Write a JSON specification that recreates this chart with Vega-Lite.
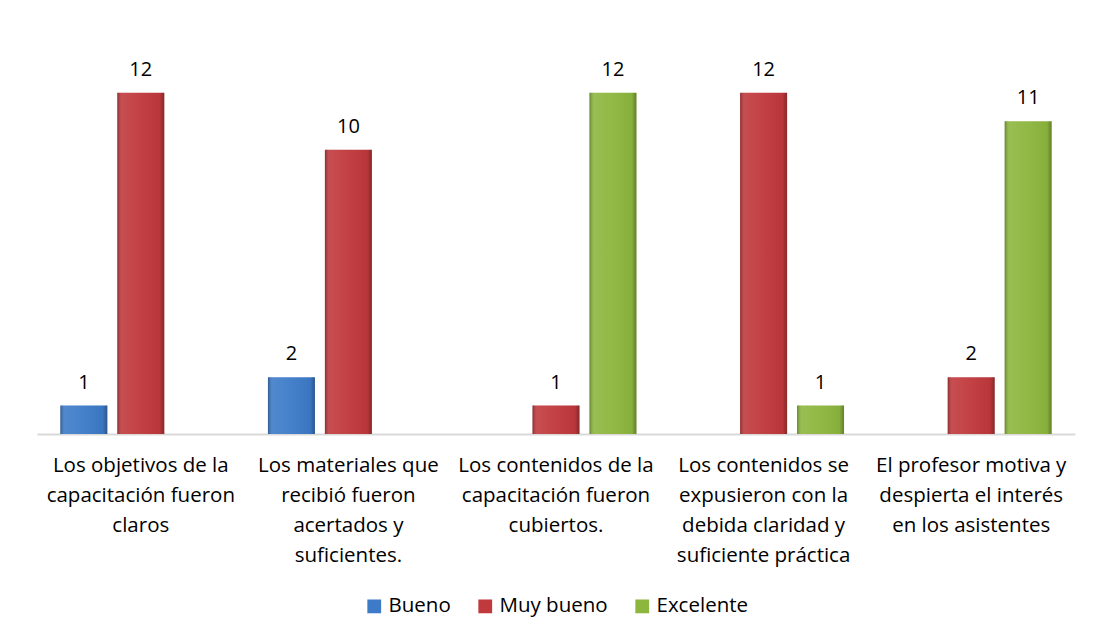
{
  "$schema": "https://vega.github.io/schema/vega-lite/v6.json",
  "width": 1038,
  "height": 398,
  "autosize": {"type": "pad"},
  "padding": {"left": 37, "top": 36, "right": 26, "bottom": 10},
  "background": "white",
  "config": {
    "view": {"stroke": null},
    "font": "Open Sans",
    "legend": {"layout": {"bottom": {"anchor": "middle"}}}
  },
  "data": {
    "values": [
      {"pregunta": "Los objetivos de la\ncapacitación fueron\nclaros", "calificacion": "Bueno", "valor": 1},
      {"pregunta": "Los objetivos de la\ncapacitación fueron\nclaros", "calificacion": "Muy bueno", "valor": 12},
      {"pregunta": "Los materiales que\nrecibió fueron\nacertados y\nsuficientes.", "calificacion": "Bueno", "valor": 2},
      {"pregunta": "Los materiales que\nrecibió fueron\nacertados y\nsuficientes.", "calificacion": "Muy bueno", "valor": 10},
      {"pregunta": "Los contenidos de la\ncapacitación fueron\ncubiertos.", "calificacion": "Muy bueno", "valor": 1},
      {"pregunta": "Los contenidos de la\ncapacitación fueron\ncubiertos.", "calificacion": "Excelente", "valor": 12},
      {"pregunta": "Los contenidos se\nexpusieron con la\ndebida claridad y\nsuficiente práctica", "calificacion": "Muy bueno", "valor": 12},
      {"pregunta": "Los contenidos se\nexpusieron con la\ndebida claridad y\nsuficiente práctica", "calificacion": "Excelente", "valor": 1},
      {"pregunta": "El profesor motiva y\ndespierta el interés\nen los asistentes", "calificacion": "Muy bueno", "valor": 2},
      {"pregunta": "El profesor motiva y\ndespierta el interés\nen los asistentes", "calificacion": "Excelente", "valor": 11}
    ]
  },
  "encoding": {
    "x": {
      "field": "pregunta",
      "type": "nominal",
      "sort": null,
      "scale": {"paddingInner": 0, "paddingOuter": 0},
      "axis": {
        "title": null,
        "labelAngle": 0,
        "labelExpr": "split(datum.label, '\\n')",
        "labelFontSize": 20.5,
        "labelLineHeight": 30,
        "labelColor": "#000000",
        "labelPadding": 21,
        "labelLimit": 0,
        "domainColor": "#D9D9D9",
        "domainWidth": 2,
        "ticks": false
      }
    },
    "xOffset": {
      "field": "calificacion",
      "type": "nominal",
      "scale": {"domain": ["Bueno", "Muy bueno", "Excelente"], "paddingInner": 0.175, "paddingOuter": 0.41}
    },
    "y": {
      "field": "valor",
      "type": "quantitative",
      "scale": {"domain": [0, 14]},
      "axis": null
    }
  },
  "layer": [
    {
      "mark": {"type": "bar"},
      "encoding": {
        "color": {
          "field": "calificacion",
          "type": "nominal",
          "scale": {"domain": ["Bueno", "Muy bueno", "Excelente"], "range": ["#3D7BC8", "#C0393C", "#8DB63E"]},
          "legend": {
            "orient": "bottom",
            "direction": "horizontal",
            "title": null,
            "symbolType": "square",
            "symbolSize": 190,
            "symbolStrokeWidth": 0,
            "labelFontSize": 20.5,
            "labelColor": "#000000",
            "columnPadding": 24,
            "offset": 30
          }
        }
      }
    },
    {
      "mark": {
        "type": "bar",
        "color": {
          "gradient": "linear",
          "x1": 0, "x2": 1, "y1": 0, "y2": 0,
          "stops": [
            {"offset": 0, "color": "rgba(0,0,0,0.28)"},
            {"offset": 0.1, "color": "rgba(255,255,255,0.10)"},
            {"offset": 0.5, "color": "rgba(255,255,255,0.04)"},
            {"offset": 0.9, "color": "rgba(0,0,0,0.04)"},
            {"offset": 1, "color": "rgba(0,0,0,0.30)"}
          ]
        }
      }
    },
    {
      "mark": {"type": "text", "baseline": "alphabetic", "dy": -17, "fontSize": 20, "color": "#000000"},
      "encoding": {"text": {"field": "valor", "type": "quantitative"}}
    }
  ]
}
